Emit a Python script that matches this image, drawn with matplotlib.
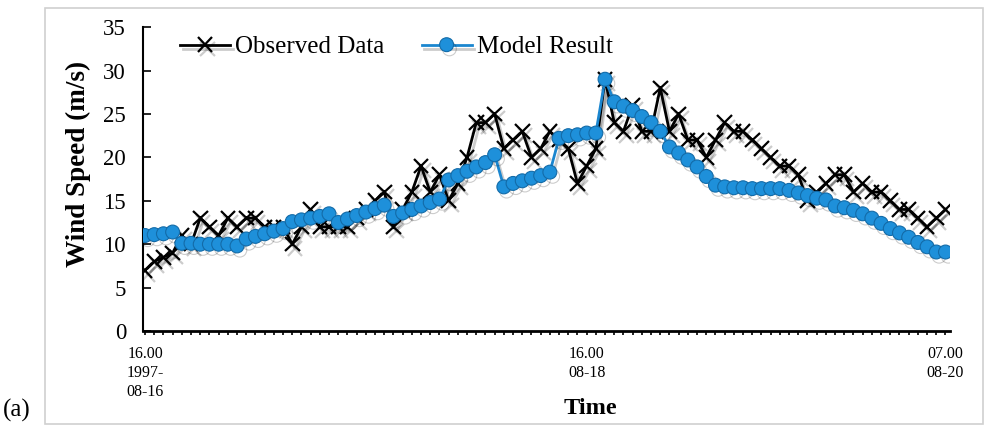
import numpy as np
import matplotlib.pyplot as plt
import matplotlib.patheffects as pe
from matplotlib.patches import Rectangle

plt.rcParams['font.family'] = ['Liberation Serif', 'DejaVu Serif']

# hourly values, 16.00 1997-08-16 to 07.00 1997-08-20
observed = [7, 8, 8.5, 9, 11, 10, 13, 12, 11, 13, 12, 13, 13, 12, 12, 12,
            10, 12, 14, 12, 12, 12, 12, 13, 14, 15, 16, 12, 14, 16, 19, 16,
            18, 15, 17, 20, 24, 24, 25, 21, 22, 23, 20, 21, 23, 22, 21, 17,
            19, 21, 29, 24, 23, 26, 23, 23, 28, 23, 25, 22, 22, 20, 22, 24,
            23, 23, 22, 21, 20, 19, 19, 18, 15, 16, 17, 18, 18, 16, 17, 16,
            16, 15, 14, 14, 13, 12, 13, 14]
model = [11.0, 11.1, 11.2, 11.4, 10.1, 10.1, 10.0, 10.0, 10.0, 10.0, 9.8,
         10.6, 10.9, 11.2, 11.5, 11.8, 12.6, 12.8, 13.0, 13.2, 13.5, 12.5,
         12.9, 13.3, 13.7, 14.1, 14.5, 13.2, 13.6, 14.0, 14.4, 14.8, 15.2,
         17.4, 17.9, 18.4, 18.9, 19.4, 20.3, 16.6, 17.0, 17.3, 17.6, 17.9,
         18.3, 22.2, 22.5, 22.6, 22.8, 22.8, 29.0, 26.4, 25.9, 25.4, 24.7,
         24.0, 23.0, 21.2, 20.5, 19.7, 18.9, 17.8, 16.8, 16.6, 16.5, 16.5,
         16.4, 16.4, 16.4, 16.4, 16.2, 15.9, 15.6, 15.3, 15.1, 14.4, 14.2,
         13.9, 13.5, 13.0, 12.4, 11.8, 11.3, 10.8, 10.2, 9.7, 9.1, 9.1]
hours = np.arange(len(observed))
tick_pos = [0, 48, 87]
tick_labels = ["16.00\n1997-\n08-16", "16.00\n08-18", "07.00\n08-20"]

fig = plt.figure(figsize=(9.87, 4.28), dpi=100)
fig.patches.append(Rectangle((45/987, 4/428), 938/987, 416/428, transform=fig.transFigure,
                             fill=False, edgecolor='#d0d0d0', linewidth=1.2))
ax = fig.add_axes([0.1446, 0.2266, 0.818, 0.710])

shadow = [pe.SimpleLineShadow(offset=(2, -3), alpha=0.2, shadow_color='black'), pe.Normal()]
ax.plot(hours, observed, color='black', lw=2, marker='x', ms=10.5, mew=1.6,
        label='Observed Data', path_effects=shadow, zorder=2)
ax.plot(hours, model, color='#1B86CF', lw=2, marker='o', ms=10,
        mfc='#1E90DA', mec='#136BA8', mew=0.8, label='Model Result',
        path_effects=shadow, zorder=3)

ax.set_xlim(-0.25, 87.5)
ax.set_ylim(0, 35)
ax.set_yticks(range(0, 36, 5))
ax.set_xticks(tick_pos)
ax.set_xticklabels(tick_labels, fontsize=11.5, linespacing=1.25)
ax.set_xticks(np.arange(0, 88), minor=True)
ax.tick_params(axis='y', direction='in', length=6, width=1.2, pad=12, labelsize=16.5)
ax.tick_params(axis='x', which='both', direction='out', length=3, width=1.2, pad=8)
for s in ['top', 'right']:
    ax.spines[s].set_visible(False)
ax.spines['left'].set_linewidth(1.5)
ax.spines['bottom'].set_linewidth(2)

ax.set_ylabel('Wind Speed (m/s)', fontsize=19.5, fontweight='bold')
ax.yaxis.set_label_coords(-0.064, 0.55)
fig.text(0.598, 0.045, 'Time', ha='center', va='center', fontsize=17.5, fontweight='bold')
fig.text(0.003, 0.04, '(a)', ha='left', va='center', fontsize=18)

ax.legend(loc='center left', bbox_to_anchor=(0.046, 0.934), ncol=2, frameon=False,
          fontsize=18, handlelength=2.0, handletextpad=0.2, columnspacing=1.5,
          borderpad=0, borderaxespad=0)

fig.savefig('out.png', dpi=100)
